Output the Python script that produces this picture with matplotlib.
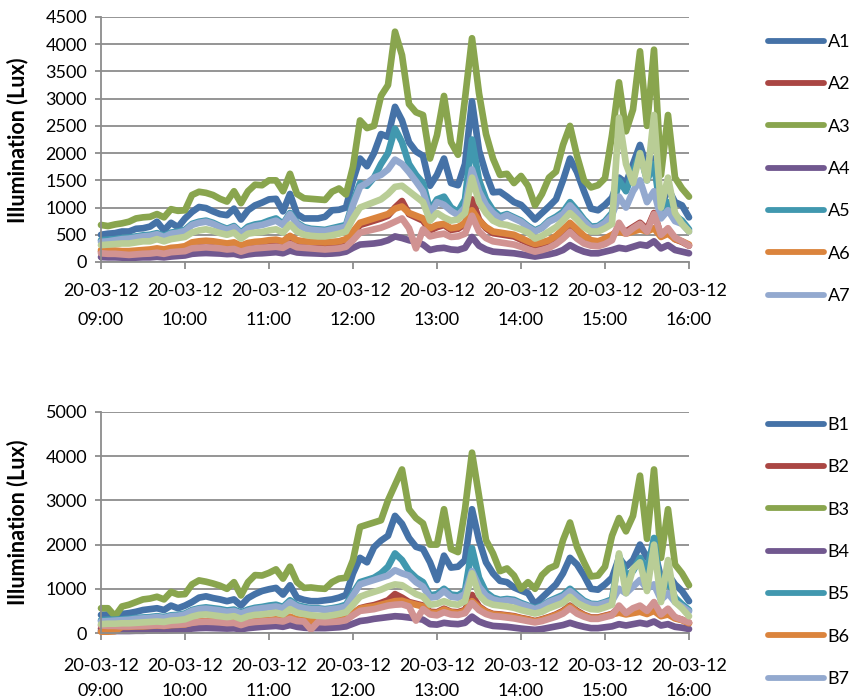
import matplotlib
matplotlib.use('Agg')
import matplotlib.pyplot as plt
import pandas as pd

# 5-minute readings, 09:00 - 16:00
times = pd.date_range('2012-03-20 09:00', '2012-03-20 16:00', freq='5min')
hours = pd.date_range('2012-03-20 09:00', '2012-03-20 16:00', freq='h')
hour_labels = [h.strftime('%d-%m-%y\n%H:%M') for h in hours]

# sensor group A (lux)
a1 = [500, 520, 530, 560, 560, 610, 620, 650, 740, 580,
      720, 640, 800, 920, 1010, 990, 930, 880, 860, 980,
      780, 950, 1040, 1090, 1150, 1160, 930, 1250, 880, 800,
      800, 800, 830, 950, 960, 1000, 1500, 1900, 1760, 2000,
      2350, 2300, 2850, 2600, 2200, 2030, 1950, 1400, 1600, 1900,
      1450, 1410, 1800, 2950, 2050, 1620, 1280, 1290, 1200, 1100,
      1050, 920, 780, 900, 1020, 1150, 1500, 1900, 1650, 1300,
      980, 950, 1050, 1180, 1550, 1450, 1800, 2150, 1750, 1900,
      1000, 1350, 1100, 1040, 820]
a2 = [190, 180, 180, 175, 175, 185, 195, 205, 225, 205,
      235, 245, 265, 330, 350, 360, 350, 330, 310, 330,
      275, 320, 340, 350, 370, 380, 350, 450, 370, 350,
      340, 340, 330, 340, 350, 390, 520, 680, 720, 760,
      800, 850, 1000, 1120, 880, 820, 760, 580, 640, 680,
      590, 610, 700, 1150, 780, 620, 530, 510, 490, 470,
      410, 350, 300, 330, 380, 460, 580, 700, 580, 450,
      370, 350, 410, 480, 620, 560, 640, 720, 600, 900,
      480, 600, 420, 370, 300]
a3 = [680, 660, 690, 710, 740, 800, 820, 830, 880, 820,
      970, 940, 950, 1230, 1290, 1270, 1230, 1160, 1110, 1300,
      1080, 1300, 1420, 1410, 1500, 1500, 1300, 1620, 1250, 1170,
      1160, 1150, 1140, 1290, 1350, 1240, 1750, 2600, 2460, 2500,
      3050, 3250, 4230, 3800, 2900, 2750, 2700, 1900, 2330, 3050,
      2200, 1970, 3000, 4110, 3100, 2350, 1900, 1600, 1620, 1450,
      1580, 1400, 1040, 1250, 1550, 1660, 2150, 2500, 1950, 1500,
      1370, 1410, 1540, 2330, 3300, 2400, 2800, 3870, 2500, 3900,
      1600, 2700, 1550, 1350, 1200]
a4 = [90, 85, 85, 80, 75, 80, 85, 85, 95, 85,
      100, 110, 120, 150, 160, 165, 160, 155, 145, 150,
      120, 140, 155, 160, 170, 180, 160, 210, 175, 165,
      160, 155, 150, 155, 165, 190, 260, 320, 330, 340,
      360, 400, 470, 440, 400, 370, 320, 220, 250, 260,
      230, 220, 260, 460, 300, 230, 190, 180, 170, 160,
      140, 120, 100, 120, 140, 170, 220, 310, 240, 190,
      160, 160, 190, 220, 260, 240, 280, 320, 300, 380,
      250, 310, 220, 190, 160]
a5 = [400, 410, 420, 440, 450, 470, 490, 500, 530, 480,
      540, 560, 590, 700, 740, 760, 720, 660, 610, 660,
      540, 650, 690, 710, 760, 800, 700, 900, 720, 640,
      610, 600, 590, 620, 650, 680, 1100, 1450, 1400, 1550,
      1800, 2000, 2450, 2200, 1800, 1600, 1450, 950, 1150, 1200,
      1000, 920, 1150, 2250, 1500, 1150, 950, 840, 880, 820,
      760, 660, 580, 640, 760, 830, 920, 1100, 950, 780,
      650, 660, 750, 900, 1500, 1300, 1650, 2000, 1500, 1800,
      900, 1100, 850, 760, 600]
a6 = [220, 210, 210, 200, 200, 210, 220, 230, 250, 230,
      260, 270, 290, 360, 380, 390, 380, 360, 340, 360,
      300, 350, 370, 380, 400, 410, 380, 480, 400, 380,
      370, 370, 360, 370, 380, 420, 560, 720, 760, 800,
      840, 880, 980, 1020, 900, 850, 800, 620, 680, 700,
      620, 640, 720, 950, 760, 640, 560, 540, 520, 500,
      440, 380, 330, 360, 400, 480, 600, 720, 600, 480,
      400, 380, 430, 500, 560, 520, 560, 600, 560, 620,
      460, 520, 420, 380, 320]
a7 = [370, 380, 400, 420, 430, 450, 470, 480, 510, 460,
      520, 540, 570, 680, 720, 740, 700, 640, 590, 640,
      520, 620, 660, 680, 720, 760, 680, 880, 700, 620,
      590, 580, 570, 600, 620, 650, 1050, 1380, 1450, 1550,
      1600, 1700, 1880, 1800, 1650, 1480, 1300, 880, 1100, 1050,
      940, 860, 1000, 1700, 1300, 1050, 900, 800, 860, 800,
      740, 640, 560, 620, 740, 800, 880, 1040, 900, 750,
      620, 640, 720, 860, 1200, 1000, 1300, 1500, 1100, 1300,
      800, 950, 750, 700, 560]
a8 = [160, 150, 150, 140, 130, 140, 150, 155, 170, 150,
      180, 190, 200, 250, 260, 270, 260, 250, 230, 240,
      190, 230, 250, 260, 270, 280, 260, 330, 270, 260,
      250, 240, 230, 240, 250, 280, 400, 540, 570, 600,
      630, 680, 740, 800, 620, 250, 600, 470, 500, 520,
      460, 470, 520, 850, 560, 440, 380, 360, 340, 320,
      280, 230, 190, 220, 260, 330, 430, 550, 430, 340,
      300, 290, 330, 400, 720, 520, 620, 700, 560, 880,
      500, 620, 450, 380, 300]
a9 = [310, 320, 330, 340, 340, 360, 380, 380, 420, 380,
      420, 440, 460, 540, 580, 600, 570, 530, 500, 540,
      430, 520, 540, 550, 580, 600, 540, 690, 560, 500,
      480, 470, 470, 490, 520, 560, 800, 1000, 1050, 1100,
      1150, 1250, 1380, 1400, 1300, 1200, 1100, 760, 900, 820,
      760, 780, 900, 1550, 1100, 900, 760, 700, 680, 640,
      600, 540, 430, 480, 560, 640, 760, 900, 780, 640,
      560, 560, 620, 700, 2650, 1800, 1450, 2000, 1500, 2700,
      1000, 1550, 900, 700, 560]

# sensor group B (lux)
b1 = [410, 420, 410, 430, 450, 480, 520, 540, 560, 520,
      620, 560, 620, 700, 800, 830, 790, 760, 720, 760,
      620, 790, 880, 950, 990, 1020, 870, 1080, 800, 750,
      720, 720, 740, 760, 800, 860, 1350, 1700, 1600, 1940,
      2090, 2200, 2650, 2470, 2150, 1950, 1900, 1600, 1200, 1750,
      1480, 1500, 1650, 2800, 2100, 1600, 1350, 1180, 1150, 1030,
      960, 900, 650, 800, 950, 1100, 1350, 1700, 1550, 1300,
      1000, 980, 1100, 1250, 1700, 1500, 1650, 2000, 1700, 1900,
      1250, 1330, 1100, 950, 720]
b2 = [100, 110, 110, 120, 120, 130, 135, 140, 150, 140,
      160, 165, 175, 220, 240, 250, 245, 235, 220, 230,
      190, 230, 250, 265, 275, 290, 270, 350, 290, 270,
      260, 255, 245, 260, 270, 310, 430, 560, 600, 630,
      680, 740, 880, 800, 700, 660, 620, 480, 470, 550,
      480, 470, 520, 860, 600, 490, 430, 420, 400, 380,
      340, 310, 270, 310, 360, 420, 500, 620, 500, 410,
      350, 350, 390, 430, 560, 440, 500, 560, 480, 620,
      400, 480, 350, 300, 230]
b3 = [560, 560, 380, 600, 640, 700, 760, 780, 820, 760,
      930, 870, 880, 1100, 1190, 1160, 1120, 1070, 1000, 1150,
      850, 1150, 1310, 1300, 1360, 1440, 1230, 1500, 1150, 1020,
      1030, 1010, 1000, 1150, 1230, 1250, 1650, 2400, 2450, 2500,
      2550, 3000, 3350, 3700, 2800, 2600, 2480, 2000, 2000, 2800,
      1900, 1830, 2800, 4080, 3100, 2100, 1800, 1400, 1460, 1300,
      1000, 1150, 1000, 1310, 1460, 1530, 2100, 2500, 1950, 1600,
      1280, 1300, 1500, 2200, 2600, 2300, 2650, 3560, 2130, 3700,
      1700, 2800, 1550, 1350, 1080]
b4 = [50, 45, 45, 45, 45, 50, 50, 55, 60, 55,
      65, 70, 75, 100, 110, 115, 110, 105, 100, 105,
      85, 110, 125, 140, 150, 160, 140, 180, 140, 120,
      110, 110, 110, 120, 130, 150, 210, 270, 290, 320,
      340, 360, 380, 370, 350, 330, 300, 200, 190, 230,
      210, 200, 230, 370, 260, 200, 160, 150, 140, 120,
      100, 85, 70, 90, 120, 150, 180, 230, 180, 140,
      110, 110, 130, 150, 200, 170, 200, 230, 200, 260,
      170, 200, 140, 120, 90]
b5 = [290, 300, 300, 310, 320, 340, 350, 360, 380, 360,
      400, 410, 440, 520, 560, 580, 560, 540, 510, 530,
      460, 530, 570, 590, 620, 640, 590, 740, 630, 590,
      560, 560, 540, 560, 590, 640, 900, 1150, 1200, 1250,
      1350, 1500, 1800, 1650, 1400, 1250, 1150, 850, 880, 1000,
      870, 850, 950, 1920, 1250, 920, 800, 750, 770, 750,
      680, 620, 560, 620, 720, 790, 860, 1000, 860, 730,
      660, 650, 700, 760, 1750, 1300, 1400, 1700, 1400, 2150,
      900, 1200, 800, 650, 520]
b6 = [30, 30, 40, 140, 140, 150, 150, 160, 170, 160,
      180, 185, 195, 240, 260, 270, 265, 255, 240, 250,
      210, 250, 270, 285, 295, 310, 290, 370, 310, 290,
      280, 275, 265, 280, 290, 330, 450, 550, 580, 600,
      640, 680, 720, 730, 680, 640, 600, 460, 450, 530,
      470, 450, 500, 720, 580, 480, 420, 410, 390, 370,
      330, 300, 260, 300, 350, 410, 480, 600, 480, 400,
      340, 340, 380, 420, 460, 420, 450, 480, 430, 500,
      380, 420, 330, 290, 220]
b7 = [260, 270, 280, 290, 300, 320, 330, 340, 360, 340,
      380, 390, 420, 500, 540, 550, 530, 510, 480, 500,
      440, 500, 540, 560, 580, 600, 560, 700, 600, 560,
      540, 540, 520, 540, 560, 600, 850, 1100, 1150, 1200,
      1250, 1300, 1420, 1350, 1300, 1150, 1050, 800, 820, 950,
      820, 800, 880, 1400, 1050, 850, 760, 720, 740, 720,
      650, 600, 540, 600, 700, 760, 820, 950, 820, 700,
      640, 630, 680, 720, 1000, 900, 1050, 1200, 1000, 1100,
      750, 900, 700, 600, 490]
b8 = [170, 160, 160, 150, 150, 155, 160, 165, 175, 165,
      185, 190, 200, 230, 250, 255, 250, 240, 225, 230,
      180, 230, 250, 260, 270, 280, 260, 320, 270, 260,
      80, 250, 240, 250, 260, 290, 400, 500, 520, 540,
      580, 620, 640, 650, 600, 280, 540, 420, 400, 470,
      420, 410, 450, 680, 520, 430, 380, 370, 350, 330,
      300, 270, 240, 270, 320, 370, 440, 560, 440, 370,
      320, 320, 360, 400, 620, 450, 560, 620, 500, 700,
      420, 550, 360, 300, 240]
b9 = [200, 210, 210, 220, 220, 230, 240, 250, 260, 250,
      280, 290, 310, 370, 410, 420, 400, 380, 360, 380,
      320, 380, 410, 420, 440, 460, 420, 540, 460, 430,
      400, 390, 380, 400, 430, 470, 640, 820, 880, 930,
      980, 1050, 1100, 1080, 980, 880, 820, 640, 660, 720,
      660, 640, 720, 1350, 860, 700, 640, 620, 600, 570,
      520, 480, 440, 480, 560, 620, 680, 820, 680, 600,
      540, 530, 580, 640, 1800, 900, 1450, 1600, 950, 2000,
      700, 1650, 700, 560, 380]

names_a = ['A1', 'A2', 'A3', 'A4', 'A5', 'A6', 'A7', 'A8', 'A9']
names_b = ['B1', 'B2', 'B3', 'B4', 'B5', 'B6', 'B7', 'B8', 'B9']
colors = ['#4572A7', '#AA4643', '#89A54E', '#71588F', '#4198AF',
          '#DB843D', '#93A9CF', '#D19392', '#B9CD96']

GRID = '#8c8c8c'
plt.rcParams['font.family'] = ['Lato', 'DejaVu Sans']


def draw_panel(ax, series, names, ymax, ystep, spacing, pad):
    for vals, name, c in zip(series, names, colors):
        ax.plot(times, vals, color=c, lw=4.8, label=name,
                solid_joinstyle='round', solid_capstyle='round', clip_on=False)
    ax.set_xlim(times[0], times[-1])
    ax.set_ylim(0, ymax)
    ax.set_yticks(range(0, ymax + 1, ystep))
    ax.set_xticks(hours, hour_labels)
    for lbl in ax.get_xticklabels():
        lbl.set_linespacing(spacing)
    ax.grid(axis='y', color=GRID, lw=1.3)
    ax.set_axisbelow(True)
    for s in ('top', 'right'):
        ax.spines[s].set_visible(False)
    for s in ('left', 'bottom'):
        ax.spines[s].set_color(GRID)
        ax.spines[s].set_linewidth(1.3)
    ax.tick_params(axis='x', length=5, width=1.3, color=GRID, labelsize=13, pad=pad)
    ax.tick_params(axis='y', length=4, width=1.3, color=GRID, labelsize=13, pad=6)
    handles, labels = ax.get_legend_handles_labels()
    return handles[:7], labels[:7]


def add_legend(handles, labels, top_px):
    leg = fig.legend(handles, labels, loc='upper left',
                     bbox_to_anchor=(768 / 851, 1 - top_px / 699),
                     frameon=False, fontsize=13, handlelength=3.1, handletextpad=0.2,
                     labelspacing=1.46, borderpad=0, borderaxespad=0)
    for line in leg.get_lines():
        line.set_linewidth(4.2)
        line.set_solid_capstyle('round')


fig = plt.figure(figsize=(8.51, 6.99), dpi=100)
ax_a = fig.add_axes([101 / 851, 1 - 262 / 699, 588 / 851, 245 / 699])
ax_b = fig.add_axes([101 / 851, 1 - 633 / 699, 588 / 851, 221 / 699])

h, l = draw_panel(ax_a, [a1, a2, a3, a4, a5, a6, a7, a8, a9], names_a, 4500, 500, 2.05, 10)
add_legend(h, l, 34)

h, l = draw_panel(ax_b, [b1, b2, b3, b4, b5, b6, b7, b8, b9], names_b, 5000, 1000, 1.7, 13)
add_legend(h, l, 417)

for yc in (140, 522):
    fig.text(18 / 851, 1 - yc / 699, 'Illumination (Lux)', rotation=90,
             ha='center', va='center', fontsize=15.5, fontweight='bold')

fig.savefig('out.png', dpi=100)
